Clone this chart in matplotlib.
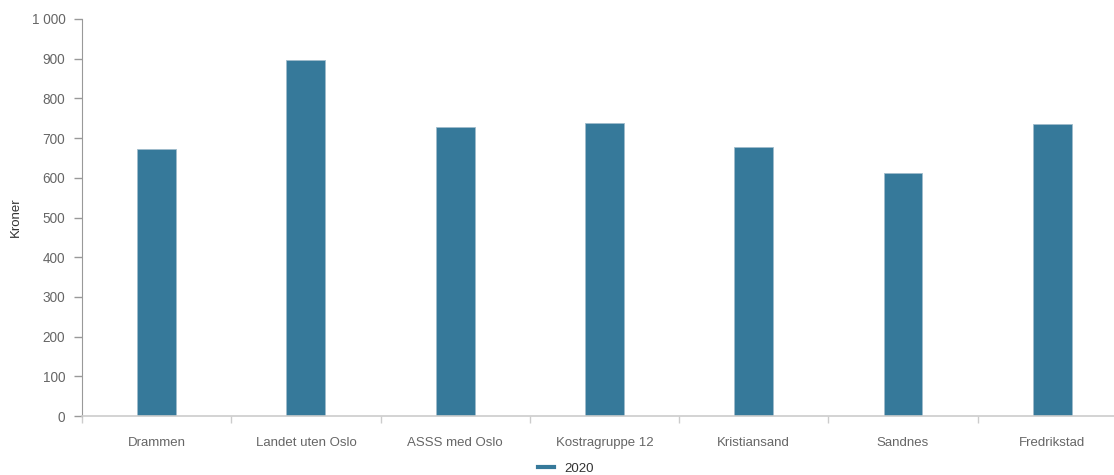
import numpy as np
import matplotlib
matplotlib.use('Agg')
from matplotlib import pyplot as plt
from matplotlib.lines import Line2D

plt.rcParams['font.family'] = ['Liberation Sans', 'DejaVu Sans']

categories = ['Drammen', 'Landet uten Oslo', 'ASSS med Oslo', 'Kostragruppe 12',
              'Kristiansand', 'Sandnes', 'Fredrikstad']
values_2020 = [672, 897, 727, 737, 678, 611, 735]
yticks = [0, 100, 200, 300, 400, 500, 600, 700, 800, 900, 1000]
ytick_labels = ['0', '100', '200', '300', '400', '500', '600', '700', '800', '900', '1 000']

barcolor = '#36799a'
textcolor = '#666666'

fig = plt.figure(figsize=(11.14, 4.75), dpi=100)
# plot area runs a little past the right edge, like the original
ax = fig.add_axes([0.0736, 0.1242, 0.938, 0.8358])

x = np.arange(len(categories))
ax.bar(x, values_2020, width=0.26, color=barcolor, edgecolor='#9fbccb', linewidth=0.6, zorder=2)

ax.set_xlim(-0.5, len(categories) - 0.5)
ax.set_ylim(0, 1000)
ax.set_yticks(yticks)
ax.set_yticklabels(ytick_labels)

# category labels centred, tick marks between categories
ax.set_xticks(x)
ax.set_xticklabels(categories)
ax.tick_params(axis='x', length=0, pad=15, labelsize=9.5, labelcolor=textcolor)
ax.set_xticks(np.arange(-0.5, len(categories), 1.0), minor=True)
ax.tick_params(axis='x', which='minor', length=5, color='#cccccc', width=1)
ax.tick_params(axis='y', length=6, color='#999999', width=1, labelsize=9.8, labelcolor=textcolor, pad=6)

for s in ['top', 'right']:
    ax.spines[s].set_visible(False)
ax.spines['left'].set_color('#999999')
ax.spines['bottom'].set_color('#cccccc')
ax.spines['bottom'].set_linewidth(1.2)

ax.set_ylabel('Kroner', color='#333333', fontsize=9.5)
ax.yaxis.set_label_coords(-0.058, 0.5)

handle = Line2D([], [], color=barcolor, linewidth=3)
fig.legend([handle], ['2020'], loc='lower center', bbox_to_anchor=(0.508, -0.025),
           frameon=False, fontsize=9.5, handlelength=1.2, labelcolor='#333333')

fig.savefig('out.png', dpi=100)
